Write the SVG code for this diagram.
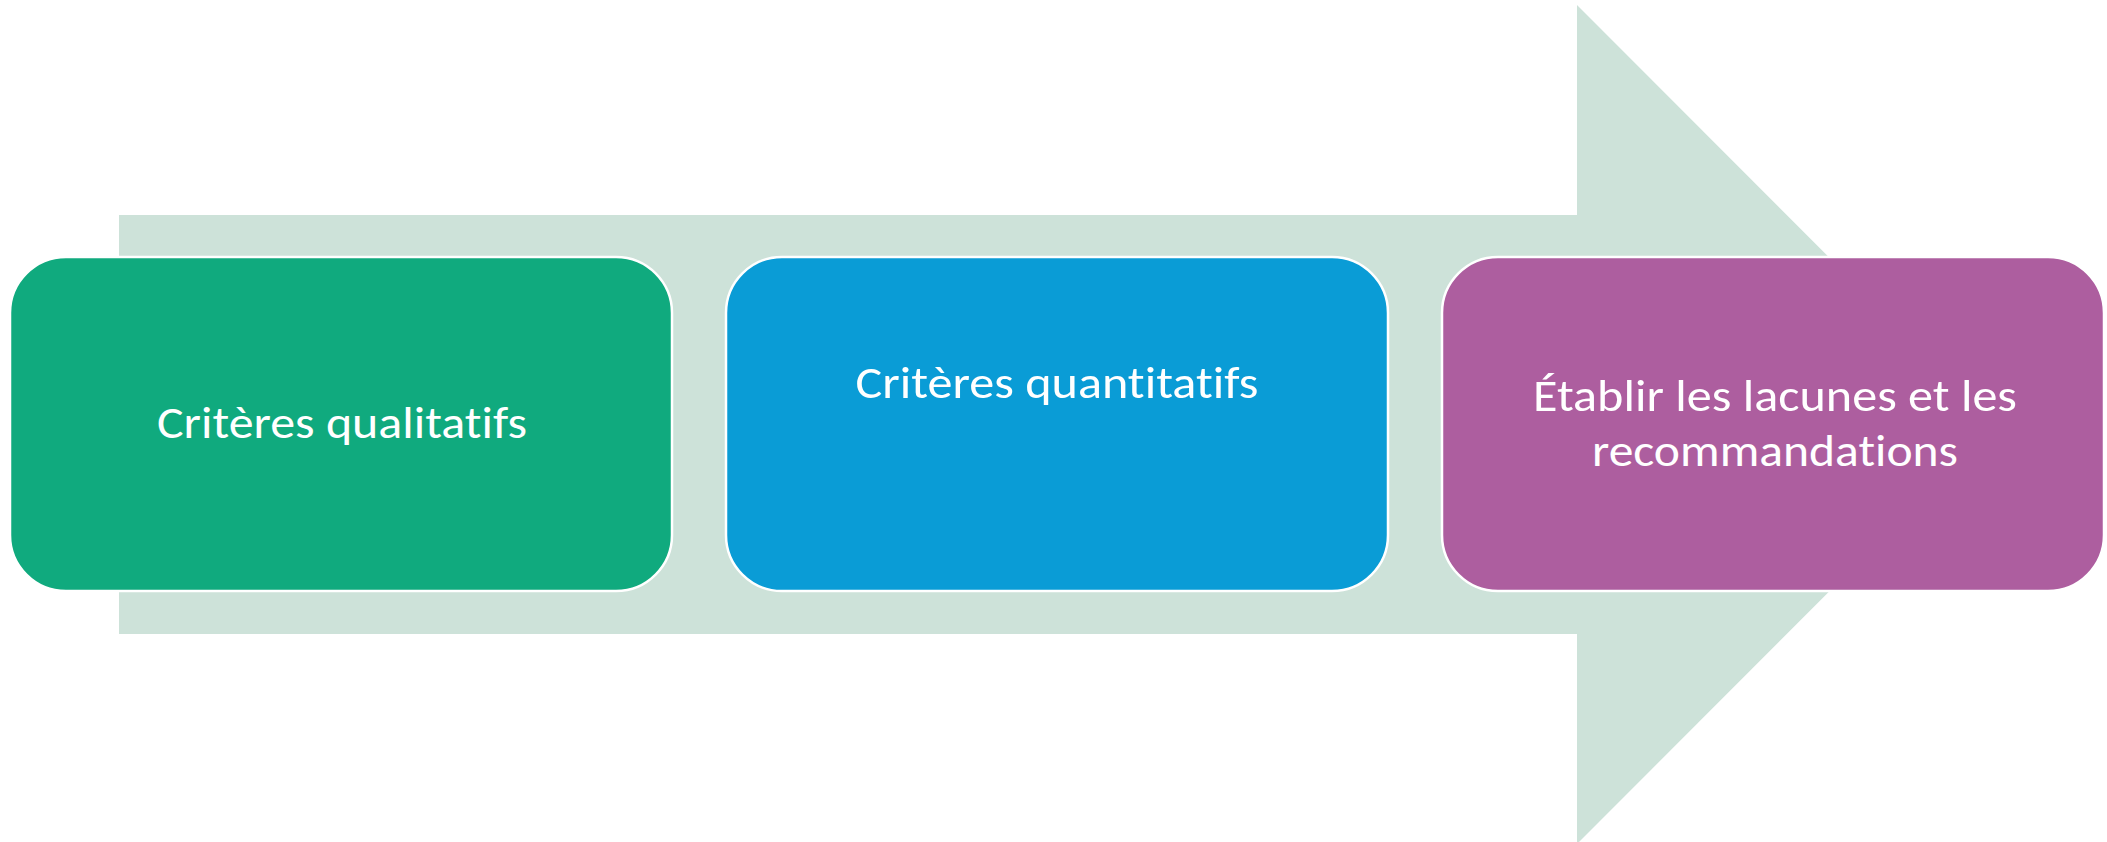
<svg xmlns="http://www.w3.org/2000/svg" width="2107" height="842" viewBox="0 0 2107 842">
<style>
.box{stroke:#ffffff;stroke-width:2.5}
.lbl{font-family:Carlito,Calibri,Lato,"Liberation Sans",sans-serif;font-size:46px;fill:#ffffff;text-anchor:middle;font-variant-ligatures:none;font-feature-settings:"liga" 0,"clig" 0}
</style>
<rect x="0" y="0" width="2107" height="842" fill="#ffffff"/>
<g id="connectors">
<polygon id="arrow" points="119,215 1577,215 1577,5 1996,424.5 1577,844 1577,634 119,634" fill="#CDE2D9"/>
</g>
<g id="node1">
<rect class="box" x="10" y="257" width="662" height="334" rx="56" ry="56" fill="#10AA7E"/>
<text class="lbl" x="342" y="438" textLength="370" lengthAdjust="spacingAndGlyphs">Critères qualitatifs</text>
</g>
<g id="node2">
<rect class="box" x="726" y="257" width="662" height="334" rx="56" ry="56" fill="#0A9CD6"/>
<text class="lbl" x="1057" y="398" textLength="403" lengthAdjust="spacingAndGlyphs">Critères quantitatifs</text>
</g>
<g id="node3">
<rect class="box" x="1442" y="257" width="662" height="334" rx="56" ry="56" fill="#AD5E9F"/>
<text class="lbl" x="1775" y="411" textLength="484" lengthAdjust="spacingAndGlyphs">Établir les lacunes et les</text>
<text class="lbl" x="1775" y="466" textLength="366" lengthAdjust="spacingAndGlyphs">recommandations</text>
</g>
</svg>
